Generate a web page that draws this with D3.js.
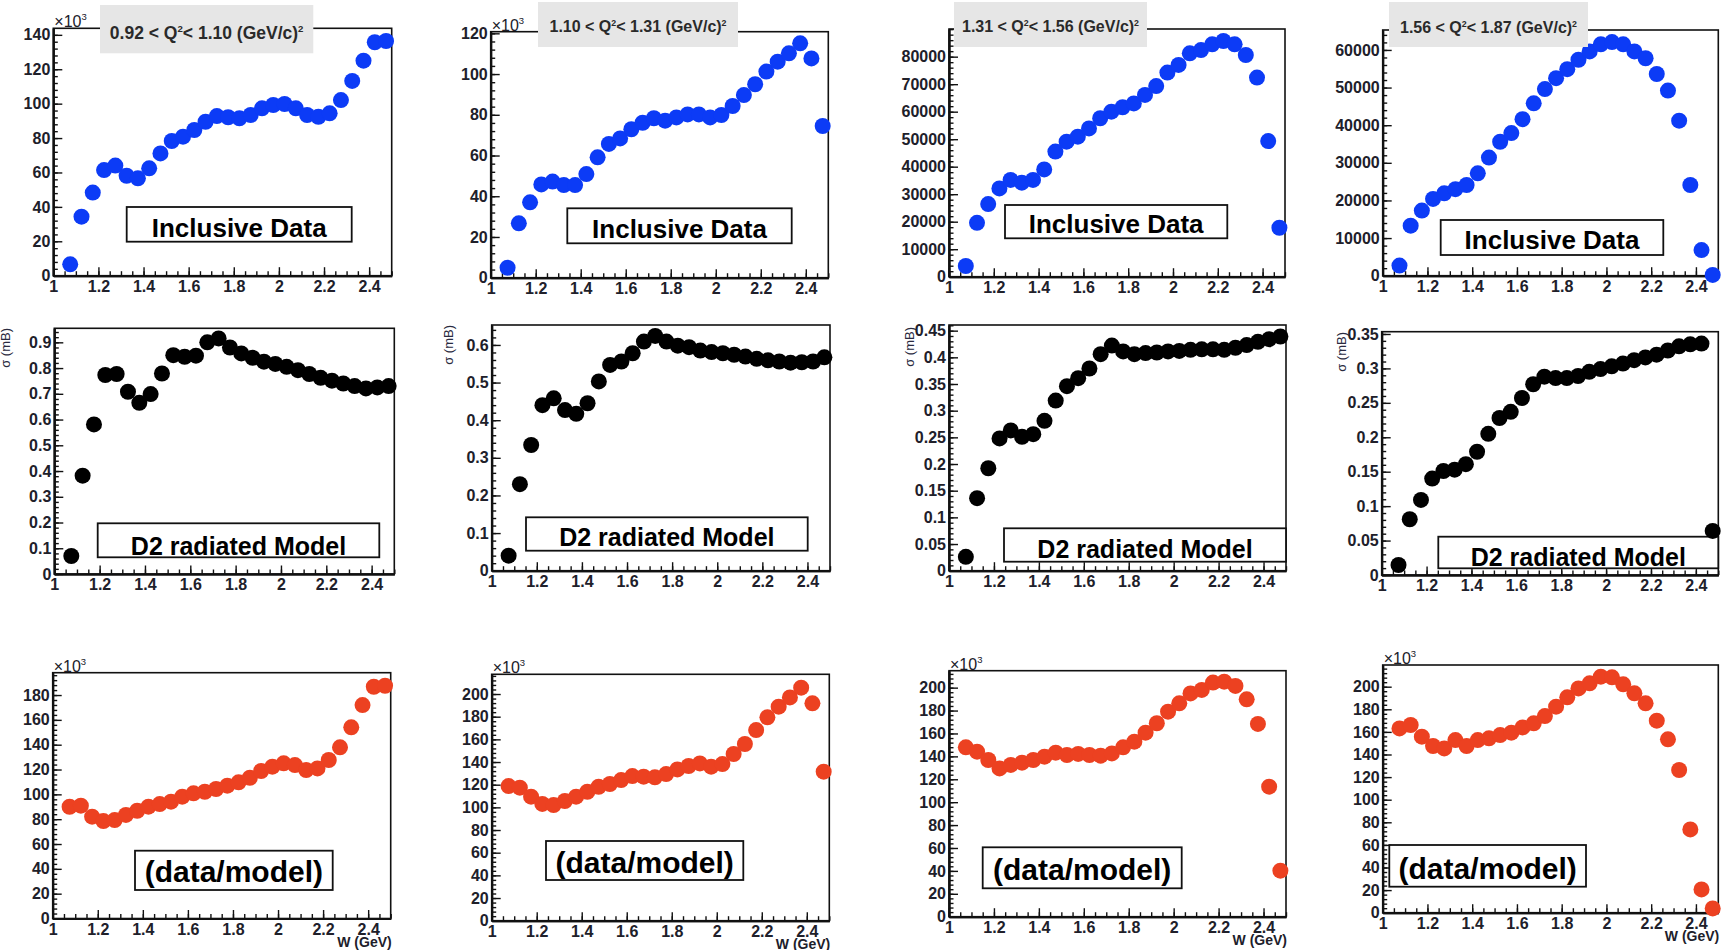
<!DOCTYPE html>
<html>
<head>
<meta charset="utf-8">
<script src="https://cdn.jsdelivr.net/npm/d3@7"></script>
<style>
  html, body { margin: 0; padding: 0; background: #fff; }
  svg { display: block; }
</style>
</head>
<body>
<svg id="chart" width="1727" height="950"></svg>
<script>
// ---- W bin centres (GeV) ----
const W = [1.075, 1.125, 1.175, 1.225, 1.275, 1.325, 1.375, 1.425, 1.475, 1.525,
           1.575, 1.625, 1.675, 1.725, 1.775, 1.825, 1.875, 1.925, 1.975, 2.025,
           2.075, 2.125, 2.175, 2.225, 2.275, 2.325, 2.375, 2.425, 2.475];

const xTicks = [1, 1.2, 1.4, 1.6, 1.8, 2, 2.2, 2.4];
const xTickLabels = ["1", "1.2", "1.4", "1.6", "1.8", "2", "2.2", "2.4"];

// Q^2 bins (GeV/c)^2
const q2Low  = ["0.92", "1.10", "1.31", "1.56"];
const q2High = ["1.10", "1.31", "1.56", "1.87"];

// ---- Inclusive data (row 1); first two in units of 10^3 ----
const incl1 = [6.6, 34.3, 48.3, 61.4, 64, 58.1, 56.6, 62.4, 71.1, 78.3, 80.8, 84.7, 89.5, 92.8, 92.1,
               91.5, 93.4, 97.3, 99.2, 99.8, 97.3, 93.4, 92.4, 94.4, 102.1, 113.2, 125, 135.7, 136.4];
const incl2 = [4.9, 26.7, 37, 45.8, 47.2, 45.5, 45.5, 50.9, 59.1, 65.7, 68.4, 72.9, 76.1, 78.3, 77.1,
               78.7, 80.2, 80.2, 78.7, 79.9, 84.3, 89.7, 95, 101.2, 106.1, 110.2, 115.1, 107.7, 74.5];
const incl3 = [3900, 19600, 26400, 32100, 35200, 34200, 35200, 39000, 45500, 49100, 50900, 53900,
               57600, 60000, 61600, 63000, 66100, 69300, 74200, 77000, 81200, 82400, 84500, 85700,
               84500, 80600, 72400, 49300, 17800];
const incl4 = [2700, 13300, 17300, 20400, 21900, 23000, 24100, 27200, 31400, 35600, 37900, 41600,
               45800, 49600, 52500, 54900, 57400, 59600, 61500, 62100, 61500, 59600, 57800, 53600,
               49200, 41200, 24100, 6800, 200];

// ---- D2 radiated model, sigma (mB) (row 2) ----
const model1 = [0.07, 0.382, 0.581, 0.773, 0.777, 0.708, 0.665, 0.699, 0.779, 0.85, 0.844, 0.848, 0.9,
                0.915, 0.88, 0.857, 0.84, 0.825, 0.816, 0.805, 0.792, 0.777, 0.762, 0.751, 0.74, 0.73,
                0.721, 0.725, 0.73];
const model2 = [0.04, 0.23, 0.334, 0.44, 0.458, 0.427, 0.417, 0.445, 0.503, 0.547, 0.556, 0.578, 0.609,
                0.624, 0.609, 0.598, 0.594, 0.585, 0.581, 0.578, 0.574, 0.569, 0.563, 0.559, 0.556,
                0.553, 0.554, 0.556, 0.567];
const model3 = [0.026, 0.136, 0.192, 0.248, 0.263, 0.251, 0.256, 0.281, 0.319, 0.346, 0.361, 0.379,
                0.406, 0.422, 0.411, 0.406, 0.408, 0.409, 0.411, 0.412, 0.414, 0.415, 0.415, 0.414,
                0.418, 0.423, 0.429, 0.434, 0.439];
const model4 = [0.0145, 0.081, 0.109, 0.14, 0.151, 0.153, 0.161, 0.179, 0.205, 0.228, 0.237, 0.257,
                0.277, 0.288, 0.286, 0.286, 0.289, 0.295, 0.299, 0.303, 0.307, 0.312, 0.316, 0.32,
                0.326, 0.332, 0.335, 0.336, 0.064];

// ---- data / model ratio, units of 10^3 (row 3) ----
const ratio1 = [90, 90.9, 82, 78.5, 79.3, 83.4, 86.8, 90.1, 92.2, 94.1, 98.1, 100.8, 102.1, 104.3, 107,
                109.7, 113.4, 118.8, 122.3, 125, 123.6, 119.6, 120.9, 127.7, 137.9, 154, 171.9, 186.7, 187.5];
const ratio2 = [118.8, 117.4, 109.4, 103, 102, 105.6, 109.4, 113.8, 118.2, 120.6, 124.1, 127.6, 127.1,
                126.5, 129.4, 133.5, 136.5, 138.8, 135.9, 138.2, 147.1, 155.9, 168.2, 179.4, 188.8, 197,
                205.6, 191.8, 131.5];
const ratio3 = [147.9, 144.1, 136.8, 129.5, 132.5, 134.5, 136.8, 139.7, 143.2, 141.2, 142.1, 141.2,
                140.6, 142.6, 147.9, 152.8, 160.7, 168.9, 179, 186.3, 195, 198, 204.4, 205.2, 201.5,
                189.8, 168.3, 113.5, 40.2];
const ratio4 = [163.1, 166.1, 155.8, 147.5, 145.4, 152.8, 147.5, 152.8, 154.3, 157.2, 159.3, 164, 167.6,
                174, 182.3, 190.6, 198.5, 203, 208.9, 208.3, 202.1, 194.1, 185.3, 169.9, 153.4, 126.3,
                73.7, 20.6, 3.8];

// ---- y-axis tick values ----
const ticksIncl = [
  [0, 20, 40, 60, 80, 100, 120, 140],
  [0, 20, 40, 60, 80, 100, 120],
  [0, 10000, 20000, 30000, 40000, 50000, 60000, 70000, 80000],
  [0, 10000, 20000, 30000, 40000, 50000, 60000]
];
const ticksModel = [
  [0, 0.1, 0.2, 0.3, 0.4, 0.5, 0.6, 0.7, 0.8, 0.9],
  [0, 0.1, 0.2, 0.3, 0.4, 0.5, 0.6],
  [0, 0.05, 0.1, 0.15, 0.2, 0.25, 0.3, 0.35, 0.4, 0.45],
  [0, 0.05, 0.1, 0.15, 0.2, 0.25, 0.3, 0.35]
];
const ticksRatio = [
  [0, 20, 40, 60, 80, 100, 120, 140, 160, 180],
  [0, 20, 40, 60, 80, 100, 120, 140, 160, 180, 200],
  [0, 20, 40, 60, 80, 100, 120, 140, 160, 180, 200],
  [0, 20, 40, 60, 80, 100, 120, 140, 160, 180, 200]
];

// y-axis upper limits
const yMaxIncl  = [143.8, 120.8, 90060, 65300];
const yMaxModel = [0.9545, 0.653, 0.4606, 0.3533];
const yMaxRatio = [198, 217.4, 214.8, 219.2];

// ---- page layout (pixel geometry) ----
// frame: [left, top, right, bottom]
const frames = [
  [[53.3, 28.3, 391.7, 275.7], [490.7, 31.7, 828.3, 277.7], [949, 29, 1285, 276.7], [1382.7, 30, 1718.3, 275.7]],
  [[54.3, 328.3, 394.3, 574], [491.7, 325, 830, 570.7], [949, 325, 1286, 570.7], [1381.7, 331.7, 1718.3, 575]],
  [[52.7, 672.7, 390.7, 918.5], [491.7, 674.3, 829.3, 920.7], [949, 670.7, 1286, 916.7], [1382.7, 665, 1718.3, 912.7]]
];
// label box: [x0, y0, x1, y1, text baseline]
const labelBoxes = [
  [[126.7, 207, 351.7, 241.7, 236.7], [567.3, 208.3, 791.7, 243.3, 238.3], [1005, 205, 1227.3, 238.3, 233.3], [1440.7, 220, 1663.3, 255, 249.3]],
  [[97.7, 523.3, 379.3, 557.3, 555], [526, 517.3, 807.7, 550.7, 545.5], [1004, 528.3, 1286, 561.7, 558.3], [1438.3, 536.7, 1718.3, 568.3, 566]],
  [[135, 850.7, 332.7, 890, 881.7], [546, 841, 743.3, 880, 873.3], [982.7, 847.3, 1181.7, 888.3, 880], [1389.3, 845, 1586, 886.7, 879.3]]
];
// Q^2 title boxes: [x0, y0, x1, y1, text baseline, font size]
const titleBoxes = [[100, 5, 313.3, 53.3, 39, 17.5], [538, 2, 738, 47, 32, 16], [954, 2, 1147, 47, 32, 16], [1389, 2, 1588, 47, 33, 16]];
// sigma axis-title anchor [x, y]
const sigmaPos = [[10, 328], [453, 325], [914, 327], [1346, 332]];

const FONT = "'Liberation Sans', Arial, Helvetica, sans-serif";
const rows = [
  { series: [incl1, incl2, incl3, incl4], ticks: ticksIncl, yMax: yMaxIncl, color: "#0c3bf6",
    label: "Inclusive Data", labelSize: 26, exp: [true, true, false, false] },
  { series: [model1, model2, model3, model4], ticks: ticksModel, yMax: yMaxModel, color: "#000000",
    label: "D2 radiated Model", labelSize: 25, exp: [false, false, false, false] },
  { series: [ratio1, ratio2, ratio3, ratio4], ticks: ticksRatio, yMax: yMaxRatio, color: "#ec4121",
    label: "(data/model)", labelSize: 30, exp: [true, true, true, true] }
];

const svg = d3.select("#chart");
const xMinor = d3.range(1, 2.5001, 0.05).map(v => +v.toFixed(2));

rows.forEach((row, r) => {
  row.series.forEach((vals, c) => {
    const [L, T, R, B] = frames[r][c];
    const g = svg.append("g");

    const x = d3.scaleLinear().domain([1, 2.5]).range([L, R]);
    const y = d3.scaleLinear().domain([0, row.yMax[c]]).range([B, T]);

    // frame
    g.append("rect").attr("x", L).attr("y", T).attr("width", R - L).attr("height", B - T)
      .attr("fill", "#fff").attr("stroke", "#111").attr("stroke-width", 1.6);

    // y axis: minor ticks, then major ticks with labels
    const yt = row.ticks[c];
    const step = yt[1] - yt[0];
    const yMinor = d3.range(0, row.yMax[c] + 1e-9, step / 5);
    const yMinorAxis = g.append("g").attr("transform", `translate(${L},0)`)
      .call(d3.axisLeft(y).tickValues(yMinor).tickSizeInner(-4.5).tickSizeOuter(0).tickFormat(""));
    const yAxis = g.append("g").attr("transform", `translate(${L},0)`)
      .call(d3.axisLeft(y).tickValues(yt).tickSizeInner(-9).tickSizeOuter(0).tickPadding(3)
        .tickFormat(d => String(d)));

    // x axis
    const xMinorAxis = g.append("g").attr("transform", `translate(0,${B})`)
      .call(d3.axisBottom(x).tickValues(xMinor).tickSizeInner(-4.5).tickSizeOuter(0).tickFormat(""));
    const xAxis = g.append("g").attr("transform", `translate(0,${B})`)
      .call(d3.axisBottom(x).tickValues(xTicks).tickSizeInner(-8.5).tickSizeOuter(0).tickPadding(5)
        .tickFormat((d, i) => xTickLabels[i]));

    [yMinorAxis, yAxis, xMinorAxis, xAxis].forEach(a => {
      a.select(".domain").attr("stroke", "#111").attr("stroke-width", 2);
      a.selectAll(".tick line").attr("stroke", "#111").attr("stroke-width", 1.4);
      a.selectAll(".tick text").attr("font-family", FONT).attr("font-size", 16)
        .attr("font-weight", "bold").attr("fill", "#20202a");
    });

    // x10^3 multiplier
    if (row.exp[c]) {
      const t = g.append("text").attr("x", L + 1).attr("y", T - 1)
        .attr("font-family", FONT).attr("font-size", 16).attr("fill", "#20202a");
      t.append("tspan").text("\u00d710");
      t.append("tspan").attr("font-size", 9.5).attr("dy", -7).text("3");
    }

    // sigma axis title on the model row
    if (r === 1) {
      const [sx, sy] = sigmaPos[c];
      g.append("text").attr("transform", `translate(${sx},${sy}) rotate(-90)`)
        .attr("text-anchor", "end").attr("font-family", FONT).attr("font-size", 13)
        .attr("fill", "#2a2a40").text("\u03c3 (mB)");
    }

    // W axis title on the bottom row
    if (r === 2) {
      g.append("text").attr("x", R + 1).attr("y", B + 28).attr("text-anchor", "end")
        .attr("font-family", FONT).attr("font-size", 14).attr("font-weight", "bold")
        .attr("fill", "#20202a").text("W (GeV)");
    }

    // label box
    const [bx0, by0, bx1, by1, bb] = labelBoxes[r][c];
    g.append("rect").attr("x", bx0).attr("y", by0).attr("width", bx1 - bx0).attr("height", by1 - by0)
      .attr("fill", "#fff").attr("stroke", "#111").attr("stroke-width", 1.8);
    g.append("text").attr("x", (bx0 + bx1) / 2).attr("y", bb).attr("text-anchor", "middle")
      .attr("font-family", FONT).attr("font-size", row.labelSize).attr("font-weight", "bold")
      .attr("fill", "#000").text(row.label);

    // data points
    g.append("g").selectAll("circle").data(vals).join("circle")
      .attr("cx", (d, i) => x(W[i])).attr("cy", d => y(d)).attr("r", 8)
      .attr("fill", row.color);

    // Q^2 title on the top row
    if (r === 0) {
      const [tx0, ty0, tx1, ty1, tb, fs] = titleBoxes[c];
      g.append("rect").attr("x", tx0).attr("y", ty0).attr("width", tx1 - tx0).attr("height", ty1 - ty0)
        .attr("fill", "#e6e6e6");
      const t = g.append("text").attr("x", (tx0 + tx1) / 2).attr("y", tb).attr("text-anchor", "middle")
        .attr("font-family", FONT).attr("font-size", fs).attr("font-weight", "bold").attr("fill", "#2a2a2a");
      t.append("tspan").text(q2Low[c] + " < Q");
      t.append("tspan").attr("font-size", fs * 0.55).attr("dy", -fs * 0.4).text("2");
      t.append("tspan").attr("dy", fs * 0.4).text("< " + q2High[c] + " (GeV/c)");
      t.append("tspan").attr("font-size", fs * 0.55).attr("dy", -fs * 0.4).text("2");
    }
  });
});
</script>
</body>
</html>
